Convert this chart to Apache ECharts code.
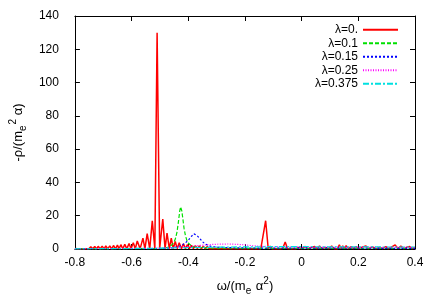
<!DOCTYPE html>
<html>
<head>
<meta charset="utf-8">
<script src="https://cdn.jsdelivr.net/npm/echarts@6/dist/echarts.min.js"></script>
<style>html,body{margin:0;padding:0;background:#fff}#c{width:436px;height:305px}</style>
</head>
<body>
<div id="c"></div>
<script>
const seriesNames = ['λ=0.', 'λ=0.1', 'λ=0.15', 'λ=0.25', 'λ=0.375'];
const xTicks = [-0.8, -0.6, -0.4, -0.2, 0, 0.2, 0.4];
const yTicks = [0, 20, 40, 60, 80, 100, 120, 140];

const red = [
  [-0.8,0.3],[-0.796,1.2],[-0.790,0.1],[-0.785,1.2],[-0.778,0.1],[-0.771,1.3],[-0.764,0.1],[-0.758,1.3],
  [-0.751,0.1],[-0.744,1.4],[-0.737,0.1],[-0.730,1.5],[-0.724,0.1],[-0.718,1.6],[-0.711,0.1],[-0.704,1.7],
  [-0.697,0.1],[-0.691,1.8],[-0.684,0.1],[-0.677,1.9],[-0.670,0.1],[-0.664,2.1],[-0.657,0.1],[-0.650,2.3],
  [-0.644,0.1],[-0.638,2.6],[-0.631,0.1],[-0.624,2.9],[-0.617,0.1],[-0.609,3.3],[-0.602,0.1],[-0.594,3.8],
  [-0.587,0.1],[-0.580,4.8],[-0.570,0.1],[-0.560,6.5],[-0.553,0.1],[-0.545,9.2],[-0.536,0.1],[-0.527,17],
  [-0.518,0.2],[-0.510,130],[-0.501,0.2],[-0.490,18],[-0.482,0.2],[-0.475,9.5],[-0.467,0.2],[-0.460,6.5],
  [-0.453,0.2],[-0.446,4.5],[-0.439,0.2],[-0.432,3.8],[-0.424,0.2],[-0.417,3.2],[-0.410,0.2],[-0.403,2.6],
  [-0.396,0.2],[-0.389,2.2],[-0.382,0.2],[-0.375,2.0],[-0.368,0.2],[-0.361,1.8],[-0.354,0.2],[-0.347,1.6],
  [-0.340,0.2],[-0.333,1.5],[-0.326,0.2],[-0.319,1.4],[-0.312,0.2],[-0.305,1.3],[-0.298,0.2],[-0.291,1.2],
  [-0.284,0.2],[-0.277,1.2],[-0.270,0.2],[-0.263,1.1],[-0.256,0.2],[-0.249,1.1],[-0.242,0.2],[-0.235,1.0],
  [-0.228,0.2],[-0.221,1.0],[-0.214,0.2],[-0.207,1.0],[-0.200,0.2],[-0.193,0.9],[-0.186,0.2],[-0.179,0.9],
  [-0.172,0.2],[-0.165,0.9],[-0.158,0.2],[-0.151,1.0],[-0.144,0.2],[-0.137,0.3],[-0.127,17],[-0.118,0.3],
  [-0.111,1.6],[-0.104,0.2],[-0.097,0.8],[-0.090,0.2],[-0.083,0.9],[-0.076,0.2],[-0.067,0.3],[-0.058,4.2],
  [-0.050,0.3],[-0.043,1.0],[-0.036,0.2],[-0.030,1.4],[-0.022,0.2],[-0.010,0.9],[0.000,0.2],[0.013,1.5],
  [0.022,0.2],[0.034,0.9],[0.040,0.2],[0.046,1.5],[0.054,0.2],[0.063,1.8],[0.072,0.2],[0.085,1.0],
  [0.095,0.2],[0.106,1.8],[0.115,0.2],[0.122,1.0],[0.127,0.2],[0.133,2.5],[0.139,0.2],[0.145,1.8],
  [0.151,0.2],[0.157,2.0],[0.165,0.2],[0.175,1.5],[0.183,0.2],[0.192,1.5],[0.200,0.2],[0.212,1.0],
  [0.219,0.2],[0.227,1.8],[0.236,0.2],[0.250,1.2],[0.262,0.2],[0.275,1.0],[0.286,0.2],[0.297,1.5],
  [0.306,0.2],[0.315,1.0],[0.322,0.2],[0.330,2.5],[0.340,0.2],[0.350,1.8],[0.360,0.2],[0.370,1.0],
  [0.375,0.2],[0.381,1.5],[0.390,0.2],[0.400,1.0]
];
const green = [
  [-0.8,0.1],[-0.6,0.15],[-0.5,0.3],[-0.48,0.6],[-0.47,1.2],[-0.46,2.2],[-0.45,4.0],[-0.445,6.5],
  [-0.44,10],[-0.435,16],[-0.43,23],[-0.427,25.3],[-0.423,23],[-0.419,18],[-0.415,12.5],[-0.41,8],
  [-0.405,5.2],[-0.40,3.6],[-0.39,2.0],[-0.38,1.3],[-0.36,0.8],[-0.3,0.5],[-0.2,0.4],[0,0.3],[0.4,0.3]
];
const blue = [
  [-0.8,0.1],[-0.5,0.3],[-0.46,0.6],[-0.44,1.2],[-0.43,1.8],[-0.42,2.6],[-0.41,3.7],[-0.40,5.3],
  [-0.39,7.4],[-0.385,8.5],[-0.38,9.1],[-0.375,8.9],[-0.37,8.2],[-0.36,6.5],[-0.35,4.4],[-0.34,3.0],
  [-0.33,2.2],[-0.32,1.6],[-0.30,1.1],[-0.25,0.8],[-0.2,0.6],[0,0.5],[0.4,0.4]
];
const magenta = [
  [-0.8,0.1],[-0.5,0.5],[-0.45,0.9],[-0.40,1.5],[-0.35,2.3],[-0.32,2.7],[-0.29,2.9],[-0.26,3.0],
  [-0.23,2.8],[-0.20,2.5],[-0.18,2.1],[-0.16,1.8],[-0.14,1.6],[-0.1,1.4],[0,1.2],[0.2,1.1],[0.4,1.0]
];
const cyan = [
  [-0.8,0.1],[-0.6,0.3],[-0.5,0.5],[-0.4,0.8],[-0.3,1.1],[-0.2,1.3],[-0.1,1.4],[0,1.4],
  [0.1,1.3],[0.2,1.3],[0.3,1.2],[0.4,1.2]
];

const colors = ['#ff0000', '#00e000', '#0000ff', '#ff00ff', '#00e0e0'];
const dashes = ['solid', [4, 2], [2, 2], [1, 1.5], [6, 2, 2, 2]];
const widths = [1.5, 1.2, 1.2, 1.2, 1.2];
const allData = [red, green, blue, magenta, cyan];

const font = 'Liberation Sans, Arial, sans-serif';
const chart = echarts.init(document.getElementById('c'), null, {renderer: 'canvas'});

function axisCommon() {
  return {
    axisLine: {show: true, onZero: false, lineStyle: {color: '#000', width: 1}},
    axisTick: {show: true, inside: true, length: 5, lineStyle: {color: '#000'}},
    splitLine: {show: false}
  };
}
const richName = {
  sub: {fontSize: 10, fontFamily: font, color: '#000', verticalAlign: 'bottom', padding: [6, 1, 0, 0]},
  sup: {fontSize: 10, fontFamily: font, color: '#000', verticalAlign: 'top', padding: [0, 0, 7, 0]}
};

chart.setOption({
  animation: false,
  backgroundColor: '#fff',
  grid: {left: 74, right: 21, top: 16, bottom: 56, containLabel: false},
  legend: {
    orient: 'vertical',
    right: 37,
    left: 'auto',
    top: 23,
    bottom: 'auto',
    align: 'right',
    itemWidth: 35,
    itemHeight: 10,
    itemGap: 0,
    padding: 0,
    itemStyle: {opacity: 0},
    textStyle: {fontFamily: font, fontSize: 12, color: '#000', lineHeight: 13.5},
    data: seriesNames
  },
  xAxis: [
    Object.assign({
      type: 'value', min: xTicks[0], max: xTicks[xTicks.length - 1], interval: 0.2,
      position: 'bottom',
      name: 'ω/(m{sub|e} α{sup|2})',
      nameLocation: 'middle', nameGap: 27,
      nameTextStyle: {fontFamily: font, fontSize: 13, color: '#000', lineHeight: 20, rich: richName},
      axisLabel: {fontFamily: font, fontSize: 12, color: '#000', margin: 8,
        formatter: v => String(xTicks.find(t => Math.abs(t - v) < 1e-6) ?? '')}
    }, axisCommon()),
    Object.assign({
      type: 'value', min: xTicks[0], max: xTicks[xTicks.length - 1], interval: 0.2,
      position: 'top', axisLabel: {show: false}
    }, axisCommon())
  ],
  yAxis: [
    Object.assign({
      type: 'value', min: yTicks[0], max: yTicks[yTicks.length - 1], interval: 20,
      position: 'left',
      name: '-ρ/(m{sub|e}{sup|2} α)',
      nameLocation: 'middle', nameGap: 40,
      nameTextStyle: {fontFamily: font, fontSize: 13, color: '#000', lineHeight: 20, rich: richName},
      axisLabel: {fontFamily: font, fontSize: 12, color: '#000', margin: 16}
    }, axisCommon()),
    Object.assign({
      type: 'value', min: yTicks[0], max: yTicks[yTicks.length - 1], interval: 20,
      position: 'right', axisLabel: {show: false}
    }, axisCommon())
  ],
  series: seriesNames.map((n, i) => ({
    name: n,
    type: 'line',
    xAxisIndex: 0,
    yAxisIndex: 0,
    data: allData[i],
    showSymbol: false,
    symbol: 'none',
    color: colors[i],
    itemStyle: {color: colors[i]},
    lineStyle: {color: colors[i], width: widths[i], type: dashes[i]},
    z: 2 + i
  }))
});
</script>
</body>
</html>
